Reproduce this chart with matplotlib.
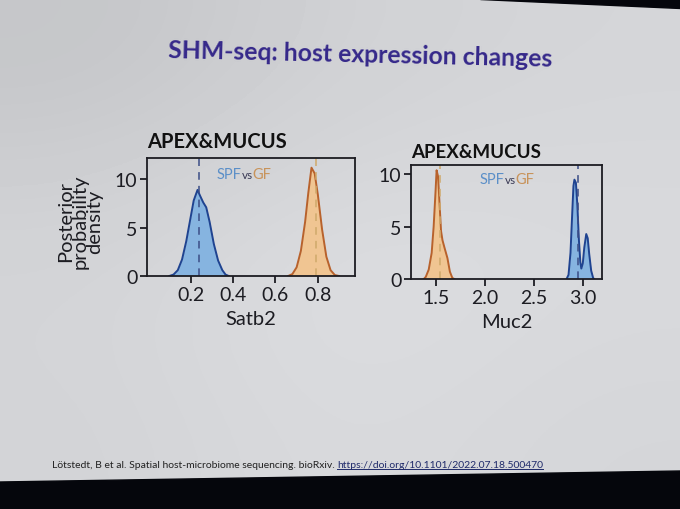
import matplotlib.pyplot as plt
import numpy as np
from matplotlib.patches import Polygon
from matplotlib.offsetbox import TextArea, HPacker, AnnotationBbox

# posterior densities
satb2_spf_x = [0.10, 0.12, 0.14, 0.16, 0.18, 0.20, 0.215, 0.233, 0.245, 0.26, 0.274, 0.29, 0.31, 0.33, 0.35, 0.365, 0.38]
satb2_spf_y = [0.0, 0.15, 0.6, 1.7, 3.6, 6.0, 7.8, 8.9, 8.3, 7.6, 7.1, 5.6, 3.3, 1.6, 0.6, 0.15, 0.0]
satb2_gf_x = [0.66, 0.68, 0.70, 0.72, 0.74, 0.755, 0.77, 0.785, 0.80, 0.82, 0.84, 0.86, 0.88, 0.90]
satb2_gf_y = [0.0, 0.2, 0.9, 2.6, 5.6, 8.6, 11.2, 10.6, 8.4, 4.8, 2.0, 0.6, 0.1, 0.0]
satb2_means = [0.242, 0.79]

muc2_gf_x = [1.38, 1.40, 1.43, 1.46, 1.48, 1.50, 1.51, 1.525, 1.54, 1.555, 1.57, 1.59, 1.62, 1.645, 1.67, 1.69]
muc2_gf_y = [0.0, 0.2, 0.9, 2.5, 5.0, 8.5, 10.4, 9.8, 7.2, 4.6, 3.7, 3.0, 2.0, 0.7, 0.1, 0.0]
muc2_spf_x = [2.83, 2.85, 2.87, 2.89, 2.90, 2.91, 2.925, 2.94, 2.955, 2.97, 2.98, 2.995, 3.01, 3.03, 3.045, 3.06, 3.08, 3.10, 3.11]
muc2_spf_y = [0.0, 0.4, 2.5, 6.8, 8.9, 9.5, 9.2, 7.0, 3.8, 1.6, 1.0, 1.5, 3.0, 4.3, 3.9, 2.4, 0.8, 0.1, 0.0]
muc2_means = [2.95, 1.54]

satb2_ticks = [0.2, 0.4, 0.6, 0.8]
muc2_ticks = [1.5, 2.0, 2.5, 3.0]
y_ticks = [0, 5, 10]

BLUE_FILL = '#86b4e0'
BLUE_LINE = '#1f4390'
BLUE_DASH = '#3b4d86'
ORANGE_FILL = '#f0c592'
ORANGE_LINE = '#b8622c'
ORANGE_DASH = '#cfa96a'
TITLE_COL = '#35288a'
INK = '#1c1c22'

plt.rcParams['font.family'] = ['Lato', 'DejaVu Sans']

fig = plt.figure(figsize=(6.8, 5.1), dpi=100)
fig.patch.set_facecolor('#dcdee2')

# slide background (lighting of the photo)
bg = fig.add_axes([0, 0, 1, 1], zorder=-10)
shade = np.array([[0.79, 0.84, 0.86],
                  [0.86, 0.90, 0.88],
                  [0.85, 0.88, 0.86]])
bg.imshow(shade, cmap='gray', vmin=0, vmax=1, interpolation='bicubic',
          extent=[0, 1, 0, 1], aspect='auto')
bg.imshow(np.ones((2, 2, 4)) * [0.55, 0.6, 0.75, 0.08], extent=[0, 1, 0, 1], aspect='auto')
bg.set_xlim(0, 1)
bg.set_ylim(0, 1)
bg.axis('off')
fig.patches.append(Polygon([[0, 0], [1, 0], [1, 1 - 472 / 510], [0, 1 - 483 / 510]],
                           closed=True, transform=fig.transFigure, color='#05060c', zorder=5))
fig.patches.append(Polygon([[480 / 680, 1], [1, 1], [1, 1 - 9 / 510]],
                           closed=True, transform=fig.transFigure, color='#05060c', zorder=5))

fig.text(360 / 680, 1 - 55 / 510, 'SHM-seq: host expression changes', ha='center', va='center',
         fontsize=17.8, fontweight='bold', color=TITLE_COL, rotation=-1.3)


def legend_text(ax, x, y):
    parts = [TextArea('SPF', textprops=dict(color='#5b8fc8', fontsize=10.5)),
             TextArea('vs', textprops=dict(color='#3a3a55', fontsize=8.5)),
             TextArea('GF', textprops=dict(color='#c8935a', fontsize=10.5))]
    box = HPacker(children=parts, align='baseline', pad=0, sep=0)
    ab = AnnotationBbox(box, (x, y), xycoords='axes fraction', frameon=False,
                        box_alignment=(0, 0.5))
    ax.add_artist(ab)


def style(ax):
    ax.set_facecolor('none')
    for s in ax.spines.values():
        s.set_color(INK)
        s.set_linewidth(1.3)
    ax.tick_params(direction='out', length=5, width=1.3, labelsize=14,
                   colors=INK, pad=2)
    ax.set_yticks(y_ticks)


# left panel: Satb2
ax1 = fig.add_axes([147 / 680, 1 - 277 / 510, 208 / 680, 118 / 510])
style(ax1)
ax1.fill_between(satb2_spf_x, satb2_spf_y, color=BLUE_FILL, lw=0)
ax1.plot(satb2_spf_x, satb2_spf_y, color=BLUE_LINE, lw=1.4)
ax1.fill_between(satb2_gf_x, satb2_gf_y, color=ORANGE_FILL, lw=0)
ax1.plot(satb2_gf_x, satb2_gf_y, color=ORANGE_LINE, lw=1.4)
ax1.axvline(satb2_means[0], color=BLUE_DASH, lw=1.1, ls=(0, (5, 4)))
ax1.axvline(satb2_means[1], color=ORANGE_DASH, lw=1.1, ls=(0, (5, 4)))
ax1.set_xlim(-0.005, 0.975)
ax1.set_ylim(0, 12.2)
ax1.set_xticks(satb2_ticks)
ax1.set_xticklabels(['0.2', '0.4', '0.6', '0.8'])
ax1.set_xlabel('Satb2', fontsize=14.5, labelpad=5, color=INK)
ax1.text(0.0, 1.06, 'APEX&MUCUS', transform=ax1.transAxes, fontsize=14.5,
         fontweight='bold', color='#111', ha='left', va='bottom')
legend_text(ax1, 0.335, 0.865)

fig.text(80 / 680, 1 - 222 / 510, 'Posterior\nprobability\ndensity', rotation=90,
         ha='center', va='center', fontsize=14.5, linespacing=0.82, color=INK)

# right panel: Muc2
ax2 = fig.add_axes([411 / 680, 1 - 280 / 510, 191 / 680, 114 / 510])
style(ax2)
ax2.fill_between(muc2_gf_x, muc2_gf_y, color=ORANGE_FILL, lw=0)
ax2.plot(muc2_gf_x, muc2_gf_y, color=ORANGE_LINE, lw=1.4)
ax2.fill_between(muc2_spf_x, muc2_spf_y, color=BLUE_FILL, lw=0)
ax2.plot(muc2_spf_x, muc2_spf_y, color=BLUE_LINE, lw=1.4)
ax2.axvline(muc2_means[0], color=BLUE_DASH, lw=1.1, ls=(0, (5, 4)))
ax2.axvline(muc2_means[1], color=ORANGE_DASH, lw=1.1, ls=(0, (5, 4)))
ax2.set_xlim(1.25, 3.19)
ax2.set_ylim(0, 10.9)
ax2.set_xticks(muc2_ticks)
ax2.set_xticklabels(['1.5', '2.0', '2.5', '3.0'])
ax2.set_xlabel('Muc2', fontsize=14.5, labelpad=5, color=INK)
ax2.text(0.0, 1.04, 'APEX&MUCUS', transform=ax2.transAxes, fontsize=13.5,
         fontweight='bold', color='#111', ha='left', va='bottom')
legend_text(ax2, 0.36, 0.875)

# reference line at the bottom of the slide
ref = fig.text(52 / 680, 1 - 466 / 510, 'Lötstedt, B et al. Spatial host-microbiome sequencing. bioRxiv. ',
               fontsize=7.5, color='#222', ha='left', va='center')
link = fig.text(0, 0, 'https://doi.org/10.1101/2022.07.18.500470', fontsize=7.5,
                color='#1f2a6a', ha='left', va='center')
fig.canvas.draw()
r = fig.canvas.get_renderer()
bb = ref.get_window_extent(r)
link.set_position((bb.x1 / fig.bbox.width, 1 - 466 / 510))
lb = link.get_window_extent(r)
fig.add_artist(plt.Line2D([lb.x0 / fig.bbox.width, lb.x1 / fig.bbox.width],
                          [(lb.y0 + 1) / fig.bbox.height] * 2,
                          color='#1f2a6a', lw=0.7, transform=fig.transFigure))

fig.savefig('out.png', dpi=100, facecolor=fig.get_facecolor())
